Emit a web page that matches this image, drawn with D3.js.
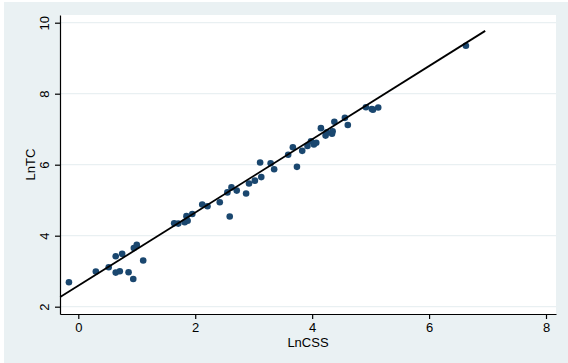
<!DOCTYPE html>
<html>
<head>
<meta charset="utf-8">
<script src="https://cdn.jsdelivr.net/npm/d3@7"></script>
<style>
  body { margin: 0; background: #fff; }
  svg { display: block; font-family: "Liberation Sans", Arial, sans-serif; }
</style>
</head>
<body>
<svg width="568" height="363"></svg>
<script>
// observed points (LnCSS, LnTC)
var lnCSS = [-0.16, 0.30, 0.52, 0.64, 0.75, 0.64, 0.71, 0.86, 0.94, 0.95, 1.00, 1.11,
    1.64, 1.71, 1.82, 1.85, 1.87, 1.95, 2.12, 2.21, 2.42, 2.59, 2.55, 2.62, 2.71, 2.87,
    2.92, 3.02, 3.13, 3.11, 3.29, 3.35, 3.59, 3.67, 3.74, 3.83, 3.92, 3.98, 4.03, 4.07,
    4.15, 4.23, 4.25, 4.34, 4.35, 4.38, 4.56, 4.61, 4.92, 5.02, 5.04, 5.13, 6.63];
var lnTC = [2.69, 2.99, 3.11, 3.42, 3.49, 2.96, 3.00, 2.97, 2.78, 3.65, 3.74, 3.30,
    4.35, 4.34, 4.38, 4.55, 4.42, 4.61, 4.88, 4.83, 4.94, 4.54, 5.22, 5.36, 5.27, 5.19,
    5.47, 5.55, 5.65, 6.06, 6.04, 5.87, 6.28, 6.49, 5.94, 6.39, 6.53, 6.66, 6.57, 6.62,
    7.03, 6.82, 6.91, 6.87, 6.94, 7.21, 7.32, 7.12, 7.62, 7.57, 7.55, 7.61, 9.35];

// fitted line end points
var fitX = [-0.31, 6.96];
var fitY = [2.27, 9.77];

var xTicks = [0, 2, 4, 6, 8];
var yTicks = [2, 4, 6, 8, 10];

var svg = d3.select("svg");

// outer graph region
svg.append("rect")
    .attr("x", 4).attr("y", 2)
    .attr("width", 564).attr("height", 361)
    .attr("fill", "#eaf1f3");

var margin = { top: 15, right: 12, bottom: 49, left: 60 },
    width = 568 - margin.left - margin.right,
    height = 363 - margin.top - margin.bottom;

var x = d3.scaleLinear().domain([-0.313, 8.171]).range([margin.left, margin.left + width]);
var y = d3.scaleLinear().domain([1.794, 10.217]).range([margin.top + height, margin.top]);

// plot region
svg.append("rect")
    .attr("x", margin.left).attr("y", margin.top)
    .attr("width", width).attr("height", height)
    .attr("fill", "#ffffff");

// grid
svg.append("g")
    .selectAll("line")
    .data(yTicks)
    .enter()
    .append("line")
    .attr("x1", margin.left + 1).attr("x2", margin.left + width)
    .attr("y1", function (d) { return y(d); })
    .attr("y2", function (d) { return y(d); })
    .attr("stroke", "#e9f0f2")
    .attr("stroke-width", 1.2);

// points
svg.append("g")
    .selectAll("circle")
    .data(lnCSS)
    .enter()
    .append("circle")
    .attr("cx", function (d) { return x(d); })
    .attr("cy", function (d, i) { return y(lnTC[i]); })
    .attr("r", 3.3)
    .attr("fill", "#1a476f");

// fitted line
svg.append("path")
    .datum(fitX)
    .attr("d", d3.line()
        .x(function (d) { return x(d); })
        .y(function (d, i) { return y(fitY[i]); }))
    .attr("fill", "none")
    .attr("stroke", "#000")
    .attr("stroke-width", 1.8);

// axes
var yAxis = svg.append("g")
    .attr("transform", "translate(" + margin.left + ",0)")
    .call(d3.axisLeft(y).tickValues(yTicks).tickSize(5).tickSizeOuter(0).tickFormat(d3.format("d")));

var xAxis = svg.append("g")
    .attr("transform", "translate(0," + (margin.top + height) + ")")
    .call(d3.axisBottom(x).tickValues(xTicks).tickSize(5).tickSizeOuter(0).tickFormat(d3.format("d")));

[xAxis, yAxis].forEach(function (g) {
    g.select(".domain").attr("stroke", "#000").attr("stroke-width", 1.2);
    g.selectAll(".tick line").attr("stroke", "#000").attr("stroke-width", 1.2);
    g.selectAll(".tick text")
        .attr("fill", "#000")
        .style("font-size", "13px")
        .style("font-family", "'Liberation Sans', Arial, sans-serif");
});

xAxis.selectAll(".tick text").attr("dy", null).attr("y", 18);

yAxis.selectAll(".tick text")
    .attr("x", null).attr("dy", null)
    .attr("text-anchor", "middle")
    .attr("transform", "translate(-10.7,0) rotate(-90)");

// axis titles
svg.append("text")
    .attr("x", margin.left + width / 2)
    .attr("y", 347)
    .attr("text-anchor", "middle")
    .style("font-size", "13px")
    .text("LnCSS");

svg.append("text")
    .attr("transform", "translate(35," + (margin.top + height / 2) + ") rotate(-90)")
    .attr("text-anchor", "middle")
    .style("font-size", "13px")
    .text("LnTC");
</script>
</body>
</html>
